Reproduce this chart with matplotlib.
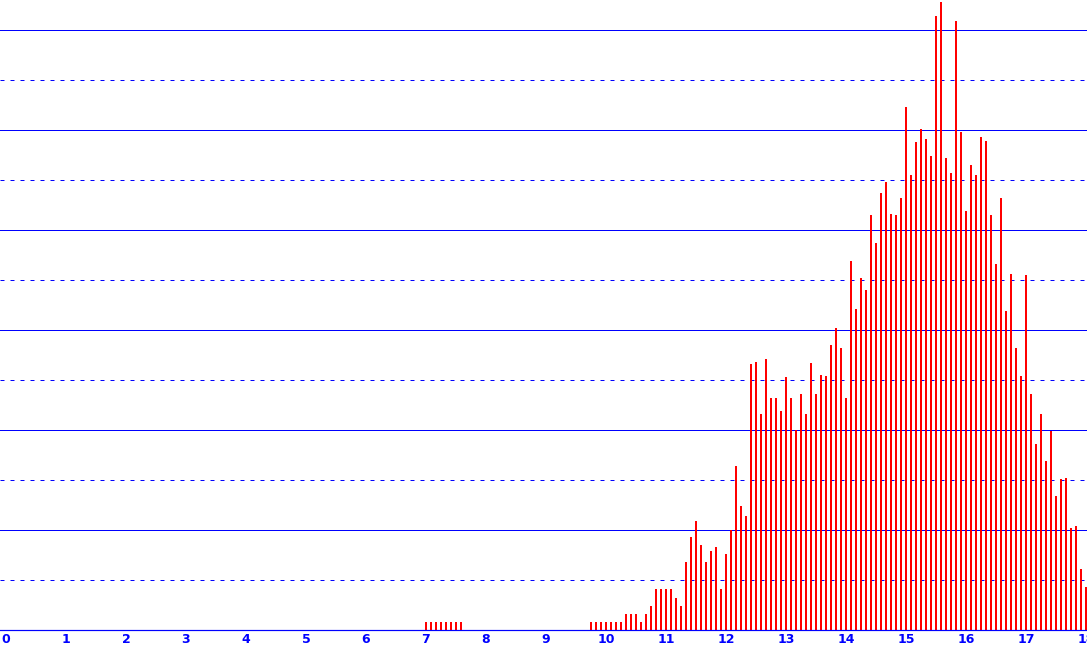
import matplotlib.pyplot as plt
from matplotlib.transforms import ScaledTranslation

# Age in months for each bar, and the bar heights
months_early = [84, 85, 86, 87, 88, 89, 90, 91]
heights_early = [8, 8, 8, 8, 8, 8, 8, 8]

months_main = list(range(117, 217))
heights_main = [
    8, 8, 8, 8, 8, 8, 8, 16, 16, 16, 8, 16,               # 9.75 .. 10.67
    24, 41, 41, 41, 41, 32, 24, 68, 93, 109, 85, 68,      # 10.75 .. 11.67
    79, 83, 41, 76, 100, 164, 124, 114, 266, 268, 216, 271,  # 11.75 .. 12.67
    232, 232, 219, 253, 232, 200, 236, 216, 267, 236, 255, 254,  # 12.75 .. 13.67
    285, 302, 282, 232, 369, 321, 352, 340, 415, 387, 437, 448,  # 13.75 .. 14.67
    416, 415, 432, 523, 455, 488, 501, 491, 474, 614, 628, 472,  # 14.75 .. 15.67
    457, 609, 498, 419, 465, 455, 493, 489, 415, 366, 432, 319,  # 15.75 .. 16.67
    356, 282, 254, 355, 236, 186, 216, 169, 199, 134, 151, 152,  # 16.75 .. 17.67
    102, 104, 61, 43,                                      # 17.75 .. 18.0
]

x_ticks = list(range(19))
solid_grid = [100, 200, 300, 400, 500, 600]
dotted_grid = [50, 150, 250, 350, 450, 550]

RED = "#ff0000"
BLUE = "#0000ff"
PX = 0.72  # one pixel in points at dpi 100

fig = plt.figure(figsize=(10.87, 6.5), dpi=100)
ax = fig.add_axes([0, 20 / 650, 1, 630 / 650])

# grid lines behind bars
for y in solid_grid:
    ax.axhline(y, color=BLUE, linewidth=PX, zorder=1)
for y in dotted_grid:
    ax.axhline(y, color=BLUE, linewidth=PX, dashes=(4, 6), zorder=1)
ax.axhline(0, color=BLUE, linewidth=1.2 * PX, zorder=3, clip_on=False)

# bars
x_all = [m / 12 for m in months_early + months_main]
h_all = heights_early + heights_main
ax.bar(x_all, h_all, width=2.2 / 60, color=RED, linewidth=0, zorder=2,
       antialiased=False)

ax.set_xlim(-6 / 60, 1081 / 60)
ax.set_ylim(0, 630)

ax.set_xticks(x_ticks)
ax.set_xticklabels([str(t) for t in x_ticks], color=BLUE, fontsize=9,
                   fontweight="bold", family="DejaVu Sans")
shift = ScaledTranslation(-2 / 100, 0, fig.dpi_scale_trans)
for lbl in ax.get_xticklabels():
    lbl.set_transform(lbl.get_transform() + shift)
ax.tick_params(axis="x", length=0, pad=2)
ax.set_yticks([])
for s in ax.spines.values():
    s.set_visible(False)

fig.savefig("out.png", dpi=100)
